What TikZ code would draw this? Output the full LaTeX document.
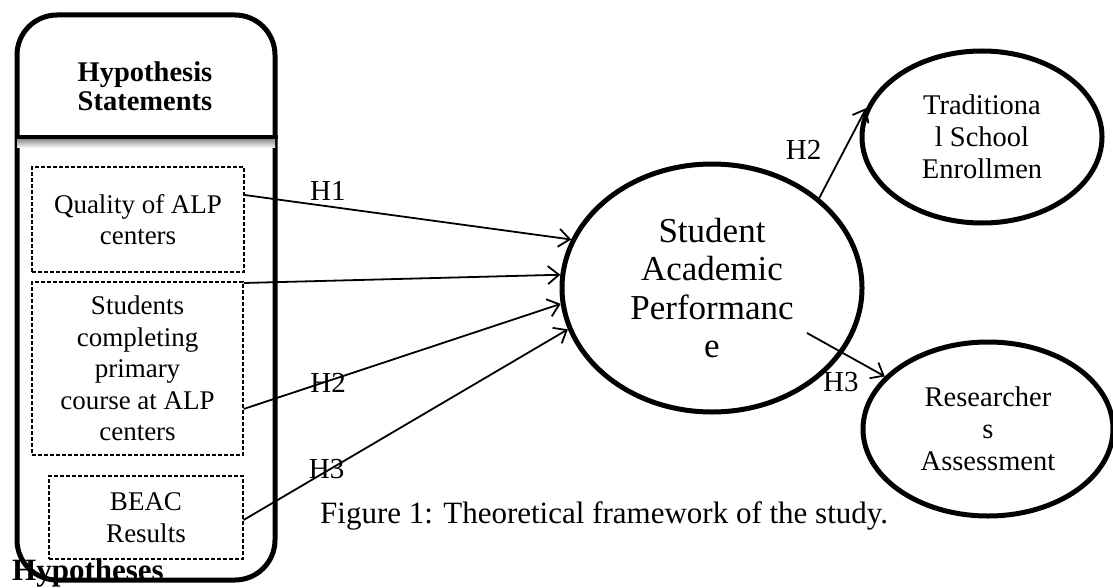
\documentclass[tikz,border=0pt]{standalone}
\usepackage{fontspec}
\setmainfont{Liberation Serif}
\usetikzlibrary{decorations.markings,calc,arrows.meta,shapes.geometric}
\tikzset{%
	% Style of the outer frame
	Frame/.style={draw=black,line width=5,rounded corners=40,inner sep=0,minimum width=258,minimum height=565},
	% Style of the dashed statement boxes
	Statement/.style={draw=black,dashed,dash pattern=on 4pt off 2pt,line width=1.2,inner sep=0,align=center,font=\fontsize{27}{31.5}\selectfont},
	% Style of the constructs
	Construct/.style={ellipse,draw=black,line width=5,inner sep=0,align=center},
	% Style of the branch label
	ArrowName/.style={font=\fontsize{29}{30}\selectfont,inner sep=0},
	% Style of the branch
	Connection/.style={line width=1.8,-{Straight Barb[length=11pt,width=18pt]}},
	MarkMiddle/.style={decoration={
			markings,
			mark=at position 0.5 with {\node[inner sep=0](middle_#1){};}},
		postaction={decorate}},
}

\begin{document}
\begin{tikzpicture}[x=1pt,y=-1pt]
\useasboundingbox (0,0) rectangle (1113,588);

%~~~~~~~~~~~~~~~~~~~~~~~~~~~~~~~~~~~~~~~~~~~~~~~~~~
% Set Nodes
%~~~~~~~~~~~~~~~~~~~~~~~~~~~~~~~~~~~~~~~~~~~~~~~~~~
\node[Frame] (Frame) at (146, 297.5) {};
\node[font=\bfseries\fontsize{28.5}{29}\selectfont,align=center] (Head) at (145, 86) {Hypothesis\\Statements};

\coordinate (Sep) at (146, 137);
\shade[top color=black!55,bottom color=white] ($ (Sep -| Frame.west) + (2.5, 0) $) rectangle ($ (Sep -| Frame.east) + (-2.5, 11) $);
\draw[line width=4.5] (Sep -| Frame.west) -- (Sep -| Frame.east);

\node[Statement,minimum width=212,minimum height=105] (Q) at (138, 219.5) {Quality of ALP\\centers};
\node[Statement,minimum width=211,minimum height=173] (C) at (137.5, 368.5) {Students\\completing\\primary\\course at ALP\\centers};
\node[Statement,minimum width=194,minimum height=83] (B) at (146, 517.5) {BEAC\\Results};

\node[Construct,minimum width=300,minimum height=248,font=\fontsize{35}{38.5}\selectfont] (SAP) at (712, 288) {Student\\Academic\\Performanc\\e};
\node[Construct,minimum width=240,minimum height=172,font=\fontsize{28.5}{32}\selectfont] (TSE) at (982, 137) {Traditiona\\l School\\Enrollmen};
\node[Construct,minimum width=250,minimum height=174,font=\fontsize{28.5}{32}\selectfont] (RA) at (988, 429) {Researcher\\s\\Assessment};

\node[anchor=base west,inner sep=0,font=\fontsize{31}{32}\selectfont] (Cap) at (320, 523) {Figure 1: Theoretical framework of the study.};

%~~~~~~~~~~~~~~~~~~~~~~~~~~~~~~~~~~~~~~~~~~~~~~~~~~
% Set Branches
%~~~~~~~~~~~~~~~~~~~~~~~~~~~~~~~~~~~~~~~~~~~~~~~~~~
\coordinate (S1) at ($ (Q.east) + (0, -24.5) $);
\coordinate (S2) at ($ (C.east) + (0, -85.5) $);
\coordinate (S3) at ($ (C.east) + (0, 40.5) $);
\coordinate (S4) at ($ (B.east) + (0, 2.5) $);
\coordinate (S5) at ($ (SAP.center) + (95, 45) $);

%Branch from Q to SAP
\draw [Connection, MarkMiddle=1] (S1) -- (SAP.161);
\node[ArrowName] at ($ (middle_1) + (-80, -26) $) {H1};

%Branch from C to SAP
\draw [Connection] (S2) -- (SAP.175);

%Branch from C to SAP
\draw [Connection, MarkMiddle=2] (S3) -- (SAP.186);
\node[ArrowName] at ($ (middle_2) + (-74, 26) $) {H2};

%Branch from B to SAP
\draw [Connection, MarkMiddle=3] (S4) -- (SAP.196);
\node[ArrowName] at ($ (middle_3) + (-79, 44) $) {H3};

%Branch from SAP to TSE
\draw [Connection, MarkMiddle=4] (SAP.40) -- (TSE.166);
\node[ArrowName] at ($ (middle_4) + (-39, -3) $) {H2};

%Branch from SAP to RA
\draw [Connection, MarkMiddle=5] (S5) -- (RA.153);
\node[ArrowName] at ($ (middle_5) + (-5, 27) $) {H3};

\node[anchor=base west,inner sep=0,font=\bfseries\fontsize{31}{33}\selectfont] (Hyps) at (12, 580) {Hypotheses};

\end{tikzpicture}
\end{document}
